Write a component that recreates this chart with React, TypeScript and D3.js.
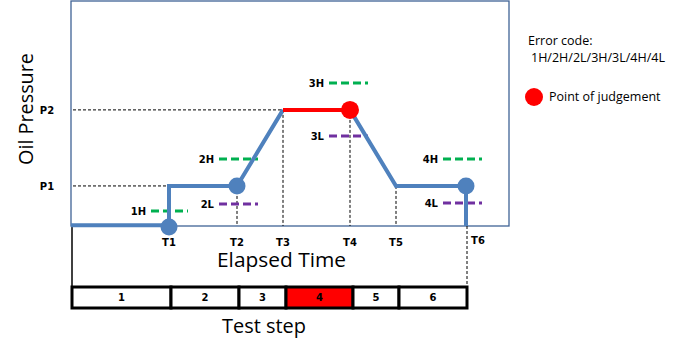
import React from "react";
import * as d3 from "d3";

// time ticks (elapsed time units) and pressure levels
const timeLabels = ["T1", "T2", "T3", "T4", "T5", "T6"];
const timeValues = [98, 166, 212, 279, 325, 395];
const pressureLabels = ["P1", "P2"];
const pressureValues = [17.8, 51.6];

// thresholds: code, level, start time, end time, kind
const thresholdCodes = ["1H", "2H", "2L", "3H", "3L", "4H", "4L"];
const thresholdLevels = [6.7, 29.8, 9.8, 63.6, 40, 29.8, 10.2];
const thresholdStart = [80, 148, 148, 258, 258, 372, 372];
const thresholdEnd = [117, 187, 187, 297, 297, 411, 411];
const thresholdKind = ["H", "H", "L", "H", "L", "H", "L"];

// test steps
const stepLabels = ["1", "2", "3", "4", "5", "6"];
const stepBounds = [1, 100, 168, 215, 282, 328, 396];
const judgedStep = "4";

const W = 700, H = 354;
const x = d3.scaleLinear().domain([0, 438]).range([71, 509]);
const y = d3.scaleLinear().domain([0, 100]).range([226, 1]);

export default function App() {
  const [T1, T2, T3, T4, T5, T6] = timeValues;
  const [P1, P2] = pressureValues;
  const line = d3.line<[number, number]>().x(d => x(d[0])).y(d => y(d[1]));
  const blue1: [number, number][] = [[0, 0.3], [T1, 0.3], [T1, P1], [T2, P1], [T3, P2]];
  const red: [number, number][] = [[T3, P2], [T4, P2]];
  const blue2: [number, number][] = [[T4, P2], [T5, P1], [T6, P1], [T6, 0]];
  const lbl = { fontFamily: "DejaVu Sans", fontWeight: "bold", fontSize: 10, fill: "#000" } as const;
  const big = { fontFamily: "Open Sans", fontSize: 19.5, fill: "#000", lengthAdjust: "spacingAndGlyphs" } as const;
  const small = { fontFamily: "Open Sans", fontSize: 12.5, fill: "#000" } as const;
  const barTop = 287, barBot = 308;
  return (
    <svg width={W} height={H} style={{ position: "absolute", left: 0, top: 0 }}>
      <rect x={0} y={0} width={W} height={H} fill="#fff" />
      {/* plot box */}
      <rect x={x(0)} y={y(100)} width={x(438) - x(0)} height={y(0) - y(100)} fill="none" stroke="#3f6396" strokeWidth={1.3} />
      {/* guide dashed lines */}
      <g stroke="#000" strokeWidth={1} strokeDasharray="3 2" fill="none">
        <line x1={x(0) + 2} x2={x(T3)} y1={y(P2)} y2={y(P2)} />
        <line x1={x(0) + 2} x2={x(T1)} y1={y(P1)} y2={y(P1)} />
        <line x1={x(T2)} x2={x(T2)} y1={y(P1)} y2={y(0)} />
        <line x1={x(T3)} x2={x(T3)} y1={y(P2)} y2={y(0)} />
        <line x1={x(T4)} x2={x(T4)} y1={y(P2)} y2={y(0)} />
        <line x1={x(T5)} x2={x(T5)} y1={y(P1)} y2={y(0)} />
        <line x1={x(T6) + 1} x2={x(T6) + 1} y1={y(0)} y2={barTop} />
      </g>
      {/* left vertical line down to the step bar */}
      <line x1={x(0) + 1} x2={x(0) + 1} y1={y(0)} y2={barBot} stroke="#000" strokeWidth={1.5} />
      {/* thresholds */}
      {thresholdCodes.map((c, i) => (
        <g key={c}>
          <line x1={x(thresholdStart[i])} x2={x(thresholdEnd[i])} y1={y(thresholdLevels[i])} y2={y(thresholdLevels[i])}
            stroke={thresholdKind[i] === "H" ? "#00b050" : "#7030a0"} strokeWidth={3} strokeDasharray="8 4" />
          <text x={x(thresholdStart[i]) - 5} y={y(thresholdLevels[i]) + 4} textAnchor="end" {...lbl}>{c}</text>
        </g>
      ))}
      {/* pressure curve */}
      <path d={line(blue1) ?? ""} fill="none" stroke="#4f81bd" strokeWidth={4} strokeLinejoin="miter" />
      <path d={line(blue2) ?? ""} fill="none" stroke="#4f81bd" strokeWidth={4} strokeLinejoin="miter" />
      <path d={line(red) ?? ""} fill="none" stroke="#ff0000" strokeWidth={4} />
      <circle cx={x(T1)} cy={y(0) + 1} r={8.5} fill="#4f81bd" />
      <circle cx={x(T2)} cy={y(P1)} r={8.5} fill="#4f81bd" />
      <circle cx={x(T6)} cy={y(P1)} r={8.5} fill="#4f81bd" />
      <circle cx={x(T4)} cy={y(P2)} r={9} fill="#ff0000" />
      {/* tick labels */}
      {timeLabels.map((t, i) => (
        <text key={t} x={x(timeValues[i]) + (i === 5 ? 12 : 0)} y={i === 5 ? 244 : 246} textAnchor="middle" {...lbl}>{t}</text>
      ))}
      {pressureLabels.map((p, i) => (
        <text key={p} x={47} y={y(pressureValues[i]) + 4} textAnchor="middle" {...lbl}>{p}</text>
      ))}
      {/* axis titles */}
      <text x={281.5} y={267} textAnchor="middle" textLength={129} {...big}>Elapsed Time</text>
      <text transform="translate(32.5,109) rotate(-90)" textAnchor="middle" textLength={112} {...big}>Oil Pressure</text>
      <text x={264} y={333} textAnchor="middle" textLength={84} {...big}>Test step</text>
      {/* step bar */}
      {stepLabels.map((s, i) => {
        const x0 = x(stepBounds[i]);
        const x1 = x(stepBounds[i + 1]);
        return (
          <g key={s}>
            <rect x={x0} y={barTop} width={x1 - x0} height={barBot - barTop} fill={s === judgedStep ? "#ff0000" : "#fff"} stroke="#000" strokeWidth={3} />
            <text x={(x0 + x1) / 2} y={301} textAnchor="middle" {...lbl}>{s}</text>
          </g>
        );
      })}
      {/* legend */}
      <text x={528} y={45} {...small}>Error code:</text>
      <text x={531} y={62} {...small}>1H/2H/2L/3H/3L/4H/4L</text>
      <circle cx={534} cy={97} r={9} fill="#ff0000" />
      <text x={549} y={101} {...small}>Point of judgement</text>
    </svg>
  );
}
